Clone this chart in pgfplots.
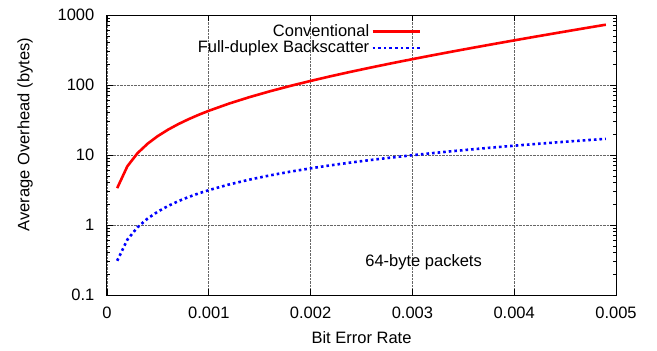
\documentclass[border=0pt]{standalone}
\usepackage{fontspec}
\setmainfont{Liberation Sans}
\usepackage{pgfplots}
\pgfplotsset{compat=1.18}
\begin{document}
\fontsize{16.5}{19}\selectfont
\begin{tikzpicture}
\begin{axis}[
  scale only axis,
  width=509pt, height=280pt,
  xmin=0, xmax=0.005,
  ymode=log, ymin=0.1, ymax=1000,
  xtick={0,0.001,0.002,0.003,0.004,0.005},
  xticklabels={0,0.001,0.002,0.003,0.004,0.005},
  ytick={0.1,1,10,100,1000},
  yticklabels={0.1,1,10,100,1000},
  /pgf/number format/assume math mode=true,
  scaled x ticks=false,
  tick align=inside,
  tick pos=both,
  major tick length=6pt,
  minor tick length=3pt,
  every tick/.style={black, line width=0.8pt},
  axis line style={black, line width=1pt},
  grid=major,
  major grid style={black!60, densely dotted, line width=0.7pt},
  tick label style={font=\fontsize{16.5}{19}\selectfont},
  xticklabel style={yshift=-6pt},
  yticklabel style={xshift=-7pt},
  label style={font=\fontsize{16.5}{19}\selectfont},
  xlabel={Bit Error Rate},
  ylabel={Average Overhead (bytes)},
  every axis x label/.style={at={(rel axis cs:0.5,0)}, yshift=-43pt, anchor=center},
  every axis y label/.style={at={(rel axis cs:0,0.573)}, xshift=-82pt, rotate=90, anchor=center},
  legend cell align=right,
  legend plot pos=right,
  legend style={draw=none, fill=none, at={(rel axis cs:0.617,0.974)}, anchor=north east,
    font=\fontsize{16.5}{19}\selectfont, inner sep=0pt, row sep=-2pt},
  legend image code/.code={\draw[#1] (0pt,0pt) -- (47pt,0pt);},
]
\coordinate (bl) at (rel axis cs:0,0);
\coordinate (tr) at (rel axis cs:1,1);
\addplot[red, line width=2.6pt, line join=round] coordinates {
(0.0001,3.3623)(0.0002,6.9016)(0.0003,10.627)(0.0004,14.549)(0.0005,18.677)
(0.0006,23.023)(0.0007,27.598)(0.0008,32.414)(0.0009,37.483)(0.0010,42.819)
(0.0012,54.351)(0.0014,67.130)(0.0016,81.291)(0.0018,96.985)(0.0020,114.38)
(0.0022,133.65)(0.0024,155.02)(0.0026,178.70)(0.0028,204.94)(0.0030,234.03)
(0.0032,266.27)(0.0034,302.00)(0.0036,341.61)(0.0038,385.52)(0.0040,434.19)
(0.0042,488.15)(0.0044,547.96)(0.0046,614.26)(0.0048,687.76)(0.0049,727.43)
};
\addlegendentry{Conventional}
\addplot[blue, line width=2.6pt, dash pattern=on 2.6pt off 3pt] coordinates {
(0.0001,0.30795)(0.0002,0.61743)(0.0003,0.92840)(0.0004,1.2409)(0.0005,1.5550)
(0.0006,1.8706)(0.0007,2.1877)(0.0008,2.5064)(0.0009,2.8267)(0.0010,3.1485)
(0.0012,3.7970)(0.0014,4.4518)(0.0016,5.1131)(0.0018,5.7809)(0.0020,6.4553)
(0.0022,7.1364)(0.0024,7.8241)(0.0026,8.5187)(0.0028,9.2202)(0.0030,9.9285)
(0.0032,10.644)(0.0034,11.366)(0.0036,12.096)(0.0038,12.833)(0.0040,13.577)
(0.0042,14.328)(0.0044,15.087)(0.0046,15.853)(0.0048,16.627)(0.0049,17.017)
};
\addlegendentry{Full-duplex Backscatter}
\node at (axis cs:0.00311,0.29) {64-byte packets};
\end{axis}
\path ([shift={(-107pt,-55pt)}]bl) rectangle ([shift={(41pt,15pt)}]tr);
\end{tikzpicture}
\end{document}
